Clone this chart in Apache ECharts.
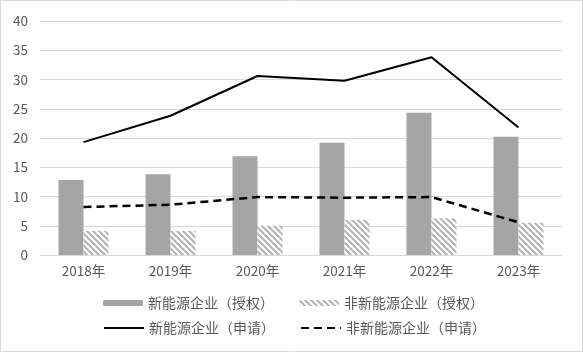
<!DOCTYPE html>
<html>
<head>
<meta charset="utf-8">
<script src="https://cdn.jsdelivr.net/npm/echarts@6/dist/echarts.min.js"></script>
<style>
  html, body { margin: 0; padding: 0; background: #fff; }
  #main { width: 583px; height: 352px; }
</style>
</head>
<body>
<div id="main"></div>
<script>
// 数据
var years = ['2018年', '2019年', '2020年', '2021年', '2022年', '2023年'];
var newGrant = [12.8, 13.8, 16.9, 19.2, 24.3, 20.2];
var otherGrant = [4.1, 4.1, 5.0, 6.0, 6.3, 5.5];
var newApply = [19.3, 23.8, 30.6, 29.8, 33.8, 21.8];
var otherApply = [8.2, 8.6, 9.9, 9.8, 9.9, 5.6];
var names = ['新能源企业（授权）', '非新能源企业（授权）', '新能源企业（申请）', '非新能源企业（申请）'];

// 斜线填充
function hatch() {
    var c = document.createElement('canvas');
    c.width = 6;
    c.height = 6;
    var ctx = c.getContext('2d');
    ctx.fillStyle = '#fff';
    ctx.fillRect(0, 0, 6, 6);
    ctx.strokeStyle = '#b3b3b3';
    ctx.lineWidth = 2;
    ctx.beginPath();
    for (var k = -6; k <= 6; k += 6) {
        ctx.moveTo(k - 1, -1);
        ctx.lineTo(k + 7, 7);
    }
    ctx.stroke();
    return c;
}

var font = '"Noto Sans CJK SC", sans-serif';
var legendText = { color: '#595959', fontSize: 14, fontFamily: font };
var myChart = echarts.init(document.getElementById('main'));

myChart.setOption({
    animation: false,
    textStyle: { fontFamily: font },
    graphic: [{
        type: 'rect',
        shape: { x: 0.5, y: 0.5, width: 582, height: 351 },
        style: { fill: 'none', stroke: '#d9d9d9', lineWidth: 1 }
    }],
    grid: { left: 40, right: 21, top: 21, bottom: 97 },
    legend: [
        {
            data: [names[0], names[1]],
            left: 103,
            top: 296,
            padding: 0,
            itemWidth: 40,
            itemHeight: 6,
            itemGap: 25,
            textStyle: legendText
        },
        {
            data: [
                { name: names[2], itemStyle: { opacity: 0 } },
                { name: names[3], itemStyle: { opacity: 0 } }
            ],
            left: 103,
            top: 321,
            padding: 0,
            itemWidth: 40,
            itemHeight: 6,
            itemGap: 25,
            textStyle: legendText
        }
    ],
    xAxis: {
        type: 'category',
        data: years,
        axisLine: { lineStyle: { color: '#d9d9d9' } },
        axisTick: { show: false },
        axisLabel: { color: '#595959', fontSize: 13.5, margin: 9 }
    },
    yAxis: {
        type: 'value',
        min: 0,
        max: 40,
        interval: 5,
        axisLine: { show: false },
        axisTick: { show: false },
        axisLabel: { color: '#595959', fontSize: 13.5, margin: 12 },
        splitLine: { lineStyle: { color: '#d9d9d9' } }
    },
    series: [
        {
            name: names[0],
            type: 'bar',
            data: newGrant,
            barWidth: 25,
            barGap: '0%',
            itemStyle: { color: '#a5a5a5' }
        },
        {
            name: names[1],
            type: 'bar',
            data: otherGrant,
            barWidth: 25,
            itemStyle: { color: { image: hatch(), repeat: 'repeat' } }
        },
        {
            name: names[2],
            type: 'line',
            data: newApply,
            symbol: 'none',
            lineStyle: { color: '#000', width: 2 },
            itemStyle: { color: '#000' }
        },
        {
            name: names[3],
            type: 'line',
            data: otherApply,
            symbol: 'none',
            lineStyle: { color: '#000', width: 2.5, type: [8, 5] },
            itemStyle: { color: '#000' }
        }
    ]
});
</script>
</body>
</html>
